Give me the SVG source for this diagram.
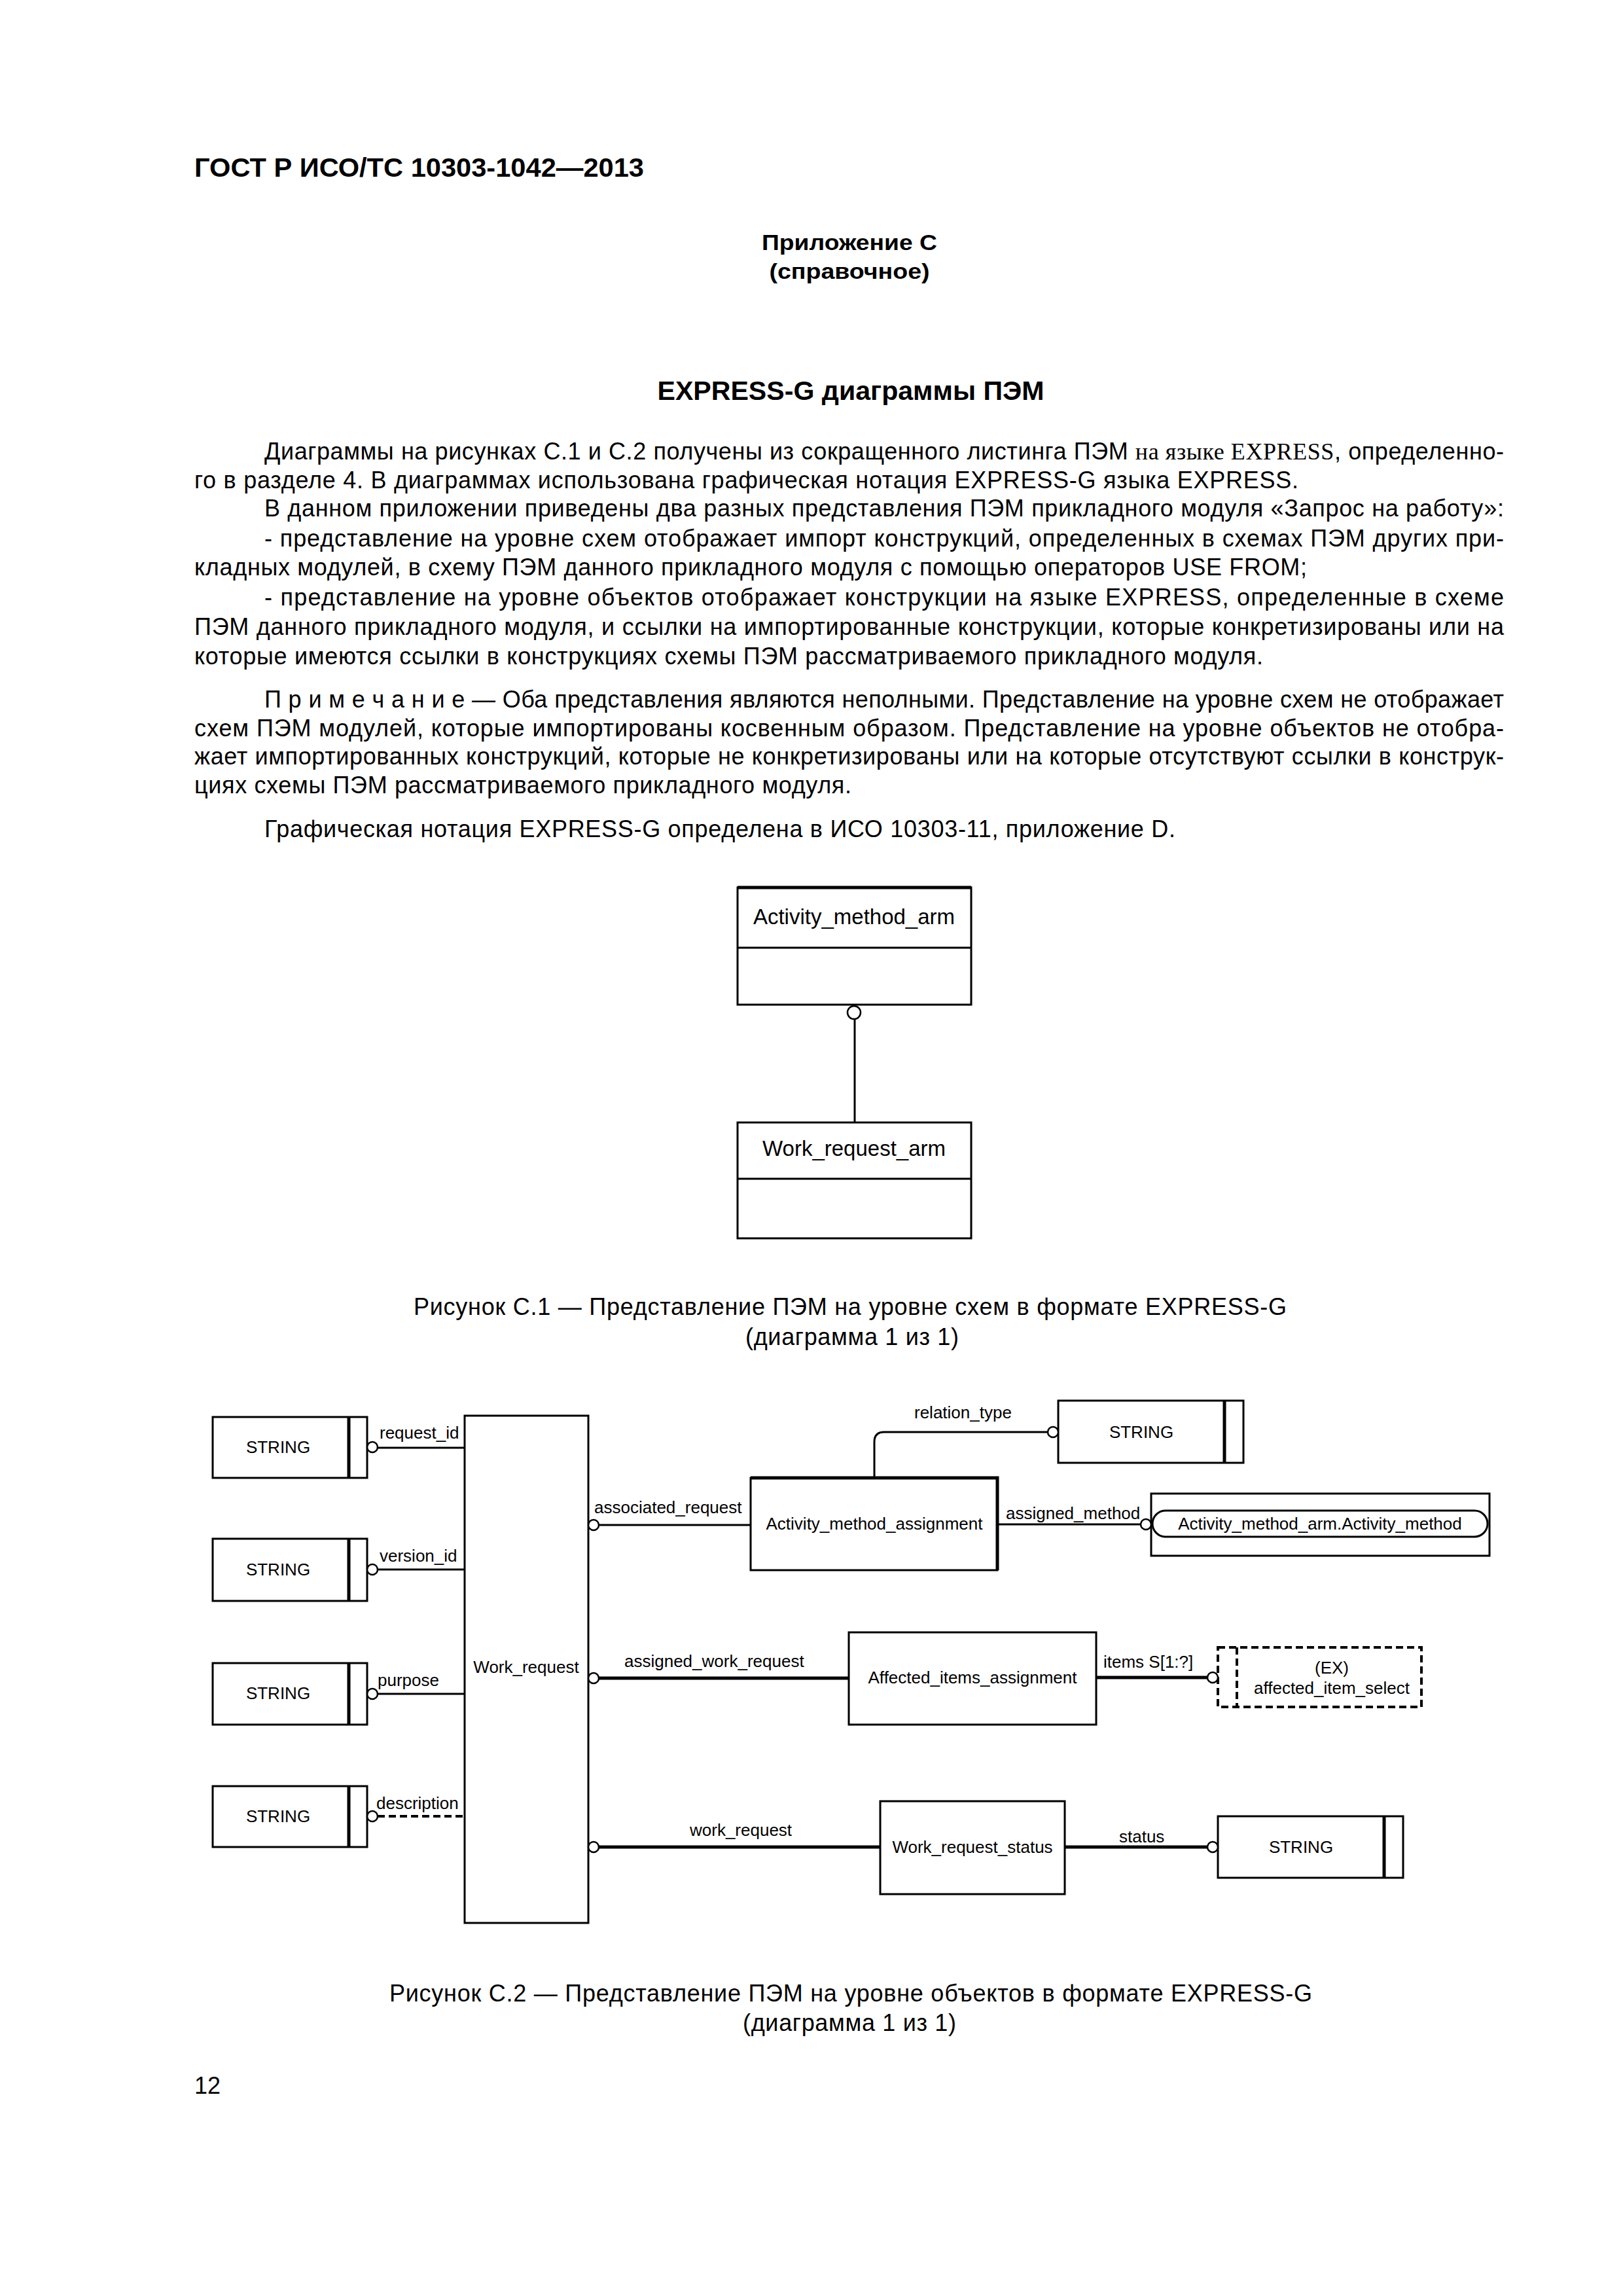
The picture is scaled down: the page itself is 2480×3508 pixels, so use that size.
<svg xmlns="http://www.w3.org/2000/svg" width="2480" height="3508" viewBox="0 0 2480 3508">
<style>
.bg{fill:#fff}
.t{font-family:"Liberation Sans",Arial,sans-serif;font-size:36px;fill:#000}
.tb{font-family:"Liberation Sans",Arial,sans-serif;font-weight:bold;fill:#000}
.ser{font-family:"Liberation Serif","Times New Roman",serif}
.d1{font-family:"Liberation Sans",Arial,sans-serif;font-size:33px;fill:#000}
.d{font-family:"Liberation Sans",Arial,sans-serif;font-size:26px;fill:#000}
.box{fill:#fff;stroke:#000;stroke-width:3}
.thk{fill:none;stroke:#000;stroke-width:5}
.ln{fill:none;stroke:#000;stroke-width:3}
.lnb{fill:none;stroke:#000;stroke-width:5}
.dash{fill:none;stroke:#000;stroke-width:4;stroke-dasharray:11 6}
.circ{fill:#fff;stroke:#000;stroke-width:2.5}
</style>
<rect class="bg" x="0" y="0" width="2480" height="3508"/>

<g id="page-text">
<text class="tb" x="297" y="270" font-size="40" textLength="687" lengthAdjust="spacingAndGlyphs">ГОСТ Р ИСО/ТС 10303-1042—2013</text>
<text class="tb" x="1298" y="382" font-size="34" text-anchor="middle" textLength="268" lengthAdjust="spacingAndGlyphs">Приложение С</text>
<text class="tb" x="1298" y="426" font-size="34" text-anchor="middle" textLength="245" lengthAdjust="spacingAndGlyphs">(справочное)</text>
<text class="tb" x="1300" y="611" font-size="40" text-anchor="middle" textLength="591" lengthAdjust="spacingAndGlyphs">EXPRESS-G диаграммы ПЭМ</text>

<text class="t" x="404" y="702" textLength="1894" lengthAdjust="spacing">Диаграммы на рисунках С.1 и С.2 получены из сокращенного листинга ПЭМ <tspan class="ser">на языке EXPRESS</tspan>, определенно-</text>
<text class="t" x="297" y="746" textLength="1687" lengthAdjust="spacing">го в разделе 4. В диаграммах использована графическая нотация EXPRESS-G языка EXPRESS.</text>
<text class="t" x="404" y="789" textLength="1894" lengthAdjust="spacing">В данном приложении приведены два разных представления ПЭМ прикладного модуля «Запрос на работу»:</text>
<text class="t" x="404" y="835" textLength="1894" lengthAdjust="spacing">- представление на уровне схем отображает импорт конструкций, определенных в схемах ПЭМ других при-</text>
<text class="t" x="297" y="879" textLength="1700" lengthAdjust="spacing">кладных модулей, в схему ПЭМ данного прикладного модуля с помощью операторов USE FROM;</text>
<text class="t" x="404" y="925" textLength="1894" lengthAdjust="spacing">- представление на уровне объектов отображает конструкции на языке EXPRESS, определенные в схеме</text>
<text class="t" x="297" y="970" textLength="2001" lengthAdjust="spacing">ПЭМ данного прикладного модуля, и ссылки на импортированные конструкции, которые конкретизированы или на</text>
<text class="t" x="297" y="1015" textLength="1633" lengthAdjust="spacing">которые имеются ссылки в конструкциях схемы ПЭМ рассматриваемого прикладного модуля.</text>
<text class="t" x="404" y="1081" textLength="1894" lengthAdjust="spacing">П р и м е ч а н и е — Оба представления являются неполными. Представление на уровне схем не отображает</text>
<text class="t" x="297" y="1125" textLength="2001" lengthAdjust="spacing">схем ПЭМ модулей, которые импортированы косвенным образом. Представление на уровне объектов не отобра-</text>
<text class="t" x="297" y="1168" textLength="2001" lengthAdjust="spacing">жает импортированных конструкций, которые не конкретизированы или на которые отсутствуют ссылки в конструк-</text>
<text class="t" x="297" y="1212" textLength="1004" lengthAdjust="spacing">циях схемы ПЭМ рассматриваемого прикладного модуля.</text>
<text class="t" x="404" y="1279" textLength="1392" lengthAdjust="spacing">Графическая нотация EXPRESS-G определена в ИСО 10303-11, приложение D.</text>

<text class="t" x="632" y="2009" textLength="1334" lengthAdjust="spacing">Рисунок С.1 — Представление ПЭМ на уровне схем в формате EXPRESS-G</text>
<text class="t" x="1302" y="2055" text-anchor="middle" textLength="326" lengthAdjust="spacing">(диаграмма 1 из 1)</text>
<text class="t" x="595" y="3058" textLength="1410" lengthAdjust="spacing">Рисунок С.2 — Представление ПЭМ на уровне объектов в формате EXPRESS-G</text>
<text class="t" x="1298" y="3103" text-anchor="middle" textLength="326" lengthAdjust="spacing">(диаграмма 1 из 1)</text>
<text class="t" x="297" y="3199">12</text>
</g>

<!-- Figure C.1 -->
<g id="c1-activity-method-arm">
<rect class="box" x="1127" y="1356" width="357" height="179"/>
<line class="thk" x1="1127" y1="1356" x2="1484" y2="1356"/>
<line class="ln" x1="1127" y1="1448" x2="1484" y2="1448"/>
<text class="d1" x="1305" y="1412" text-anchor="middle">Activity_method_arm</text>
</g>
<g id="c1-work-request-arm">
<rect class="box" x="1127" y="1715" width="357" height="177"/>
<line class="ln" x1="1127" y1="1801" x2="1484" y2="1801" stroke-width="4"/>
<text class="d1" x="1305" y="1766" text-anchor="middle">Work_request_arm</text>
</g>
<g id="c1-connectors">
<line class="ln" x1="1306" y1="1557" x2="1306" y2="1715"/>
<circle class="circ" cx="1305" cy="1547" r="10"/>
</g>

<!-- Figure C.2 -->
<g id="string-1">
<rect class="box" x="325" y="2165" width="236" height="93"/>
<line class="lnb" x1="533" y1="2165" x2="533" y2="2258"/>
<text class="d" x="425" y="2220" text-anchor="middle">STRING</text>
</g>
<g id="string-2">
<rect class="box" x="325" y="2351" width="236" height="95"/>
<line class="lnb" x1="533" y1="2351" x2="533" y2="2446"/>
<text class="d" x="425" y="2407" text-anchor="middle">STRING</text>
</g>
<g id="string-3">
<rect class="box" x="325" y="2541" width="236" height="94"/>
<line class="lnb" x1="533" y1="2541" x2="533" y2="2635"/>
<text class="d" x="425" y="2596" text-anchor="middle">STRING</text>
</g>
<g id="string-4">
<rect class="box" x="325" y="2729" width="236" height="93"/>
<line class="lnb" x1="533" y1="2729" x2="533" y2="2822"/>
<text class="d" x="425" y="2784" text-anchor="middle">STRING</text>
</g>
<g id="work-request">
<rect class="box" x="710" y="2163" width="189" height="775"/>
<text class="d" x="804" y="2556" text-anchor="middle">Work_request</text>
</g>
<g id="activity-method-assignment">
<rect class="box" x="1147" y="2258" width="377" height="141"/>
<polyline class="thk" points="1147,2258 1524,2258 1524,2399"/>
<text class="d" x="1336" y="2337" text-anchor="middle">Activity_method_assignment</text>
</g>
<g id="string-relation">
<rect class="box" x="1617" y="2140" width="283" height="95"/>
<line class="lnb" x1="1871" y1="2140" x2="1871" y2="2235"/>
<text class="d" x="1744" y="2197" text-anchor="middle">STRING</text>
</g>
<g id="activity-method-ref">
<rect class="box" x="1759" y="2282" width="517" height="95"/>
<rect class="box" x="1761" y="2308" width="512" height="40" rx="20" ry="20"/>
<text class="d" x="2017" y="2337" text-anchor="middle">Activity_method_arm.Activity_method</text>
</g>
<g id="affected-items-assignment">
<rect class="box" x="1297" y="2494" width="378" height="141"/>
<text class="d" x="1486" y="2572" text-anchor="middle">Affected_items_assignment</text>
</g>
<g id="affected-item-select">
<rect class="dash" x="1861" y="2517" width="311" height="91"/>
<line class="dash" x1="1890" y1="2517" x2="1890" y2="2608" stroke-width="3"/>
<text class="d" x="2035" y="2557" text-anchor="middle">(EX)</text>
<text class="d" x="2035" y="2588" text-anchor="middle">affected_item_select</text>
</g>
<g id="work-request-status">
<rect class="box" x="1345" y="2752" width="282" height="142"/>
<text class="d" x="1486" y="2831" text-anchor="middle">Work_request_status</text>
</g>
<g id="string-status">
<rect class="box" x="1861" y="2775" width="283" height="94"/>
<line class="lnb" x1="2115" y1="2775" x2="2115" y2="2869"/>
<text class="d" x="1988" y="2831" text-anchor="middle">STRING</text>
</g>

<g id="connectors">
<line class="ln" x1="577" y1="2212" x2="710" y2="2212"/>
<circle class="circ" cx="569" cy="2211" r="8"/>
<text class="d" x="580" y="2198">request_id</text>

<line class="ln" x1="577" y1="2398" x2="710" y2="2398"/>
<circle class="circ" cx="569" cy="2398" r="8"/>
<text class="d" x="580" y="2386">version_id</text>

<line class="ln" x1="577" y1="2588" x2="710" y2="2588"/>
<circle class="circ" cx="569" cy="2588" r="8"/>
<text class="d" x="577" y="2576">purpose</text>

<line class="dash" x1="577" y1="2775" x2="710" y2="2775"/>
<circle class="circ" cx="569" cy="2775" r="8"/>
<text class="d" x="575" y="2764">description</text>

<line class="ln" x1="915" y1="2330" x2="1147" y2="2330"/>
<circle class="circ" cx="907" cy="2330" r="8"/>
<text class="d" x="908" y="2312">associated_request</text>

<path class="ln" d="M1336 2258 V2203 Q1336 2188 1351 2188 H1601"/>
<circle class="circ" cx="1609" cy="2188" r="8"/>
<text class="d" x="1397" y="2167">relation_type</text>

<line class="ln" x1="1524" y1="2329" x2="1743" y2="2329"/>
<circle class="circ" cx="1751" cy="2329" r="8"/>
<text class="d" x="1537" y="2321">assigned_method</text>

<line class="lnb" x1="915" y1="2564" x2="1297" y2="2564"/>
<circle class="circ" cx="907" cy="2564" r="8"/>
<text class="d" x="954" y="2547">assigned_work_request</text>

<line class="lnb" x1="1675" y1="2563" x2="1845" y2="2563"/>
<circle class="circ" cx="1853" cy="2563" r="8"/>
<text class="d" x="1686" y="2548">items S[1:?]</text>

<line class="lnb" x1="915" y1="2822" x2="1345" y2="2822"/>
<circle class="circ" cx="907" cy="2822" r="8"/>
<text class="d" x="1054" y="2805">work_request</text>

<line class="lnb" x1="1627" y1="2822" x2="1845" y2="2822"/>
<circle class="circ" cx="1853" cy="2822" r="8"/>
<text class="d" x="1710" y="2815">status</text>
</g>
</svg>
